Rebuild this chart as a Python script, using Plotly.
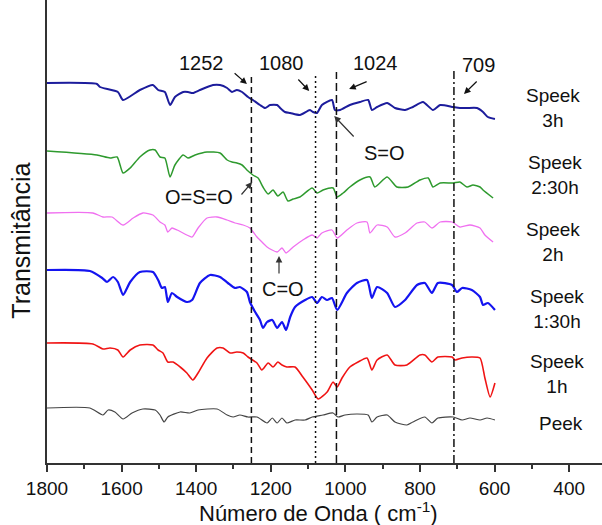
import plotly.graph_objects as go

# FTIR spectra (wavenumber in cm-1, transmittance in arbitrary offset units)
wn_3h = [1800, 1666, 1658, 1610, 1596, 1551, 1516, 1502, 1484, 1470, 1457, 1435, 1422, 1409, 1390,
         1355, 1336, 1317, 1304, 1291, 1277, 1261, 1248, 1229, 1215, 1202, 1183, 1175, 1162, 1148,
         1122, 1095, 1087, 1076, 1063, 1036, 1028, 1014, 988, 961, 939, 929, 915, 888, 867,
         840, 819, 792, 765, 746, 711, 693, 674, 647, 631, 618, 599]
t_3h = [3.87, 3.86, 3.83, 3.78, 3.70, 3.80, 3.85, 3.80, 3.78, 3.65, 3.73, 3.78, 3.78, 3.77, 3.80,
        3.85, 3.85, 3.82, 3.78, 3.80, 3.78, 3.73, 3.70, 3.65, 3.62, 3.65, 3.65, 3.62, 3.58, 3.57,
        3.55, 3.60, 3.58, 3.57, 3.65, 3.70, 3.60, 3.60, 3.65, 3.68, 3.70, 3.60, 3.63, 3.67, 3.62,
        3.60, 3.63, 3.68, 3.60, 3.65, 3.63, 3.62, 3.62, 3.62, 3.58, 3.53, 3.51]

wn_2h30 = [1800, 1666, 1631, 1612, 1596, 1577, 1551, 1524, 1510, 1497, 1484, 1470, 1457, 1435, 1422,
           1403, 1371, 1336, 1317, 1304, 1291, 1277, 1264, 1248, 1234, 1221, 1207, 1194, 1181, 1167,
           1154, 1140, 1122, 1089, 1076, 1060, 1033, 1022, 1006, 988, 961, 934, 921, 888, 862,
           832, 800, 778, 765, 746, 711, 693, 674, 658, 639, 631, 604]
t_2h30 = [3.19, 3.15, 3.12, 3.13, 2.97, 3.02, 3.13, 3.20, 3.20, 3.13, 3.12, 2.93, 3.05, 3.15, 3.12,
          3.15, 3.18, 3.17, 3.10, 3.08, 3.07, 3.05, 3.00, 2.95, 2.92, 2.83, 2.76, 2.80, 2.74, 2.78,
          2.69, 2.71, 2.73, 2.82, 2.77, 2.80, 2.82, 2.73, 2.77, 2.83, 2.90, 2.93, 2.83, 2.93, 2.83,
          2.83, 2.90, 2.92, 2.83, 2.87, 2.87, 2.88, 2.83, 2.85, 2.83, 2.80, 2.72]

wn_2h = [1800, 1677, 1650, 1626, 1596, 1569, 1543, 1516, 1497, 1484, 1476, 1465, 1451, 1425, 1411,
         1395, 1371, 1344, 1317, 1296, 1274, 1256, 1237, 1229, 1210, 1183, 1170, 1159, 1140, 1114,
         1089, 1076, 1063, 1036, 1022, 996, 969, 942, 934, 915, 888, 867, 840, 808, 787,
         768, 746, 714, 693, 666, 639, 626, 604]
t_2h = [2.57, 2.57, 2.53, 2.53, 2.45, 2.52, 2.57, 2.55, 2.48, 2.45, 2.38, 2.42, 2.40, 2.35, 2.33,
        2.42, 2.52, 2.53, 2.50, 2.47, 2.45, 2.42, 2.33, 2.30, 2.23, 2.18, 2.22, 2.17, 2.23, 2.30,
        2.35, 2.32, 2.37, 2.40, 2.32, 2.40, 2.47, 2.48, 2.37, 2.45, 2.43, 2.33, 2.37, 2.47, 2.48,
        2.42, 2.48, 2.48, 2.43, 2.45, 2.42, 2.35, 2.28]

wn_1h30 = [1800, 1685, 1652, 1639, 1623, 1610, 1596, 1577, 1551, 1516, 1502, 1492, 1484, 1476, 1465,
           1451, 1425, 1411, 1390, 1363, 1336, 1315, 1296, 1283, 1264, 1256, 1242, 1229, 1221, 1210,
           1196, 1183, 1170, 1159, 1148, 1135, 1108, 1089, 1076, 1063, 1049, 1036, 1022, 996, 969,
           942, 929, 915, 888, 867, 840, 808, 787, 768, 752, 714, 701, 687, 661, 639,
           631, 618, 599]
t_1h30 = [2.00, 1.99, 1.92, 1.88, 1.93, 1.88, 1.75, 1.88, 1.98, 1.98, 1.90, 1.82, 1.83, 1.68, 1.77,
          1.73, 1.68, 1.70, 1.87, 1.95, 1.93, 1.87, 1.82, 1.83, 1.78, 1.68, 1.58, 1.50, 1.42, 1.48,
          1.50, 1.42, 1.48, 1.40, 1.53, 1.63, 1.70, 1.73, 1.67, 1.73, 1.70, 1.72, 1.60, 1.77, 1.87,
          1.90, 1.72, 1.83, 1.77, 1.63, 1.70, 1.85, 1.87, 1.77, 1.87, 1.85, 1.78, 1.82, 1.80, 1.73,
          1.65, 1.67, 1.60]

wn_1h = [1800, 1677, 1650, 1631, 1610, 1596, 1577, 1551, 1516, 1502, 1489, 1476, 1462, 1443, 1425,
         1409, 1395, 1371, 1344, 1328, 1309, 1291, 1274, 1261, 1237, 1224, 1207, 1194, 1181, 1170,
         1157, 1135, 1114, 1089, 1073, 1049, 1033, 1022, 1009, 988, 966, 942, 929, 915, 888,
         867, 835, 800, 787, 768, 752, 714, 706, 687, 661, 639, 626, 612, 599]
t_1h = [1.27, 1.26, 1.21, 1.22, 1.20, 1.13, 1.20, 1.25, 1.25, 1.20, 1.17, 1.08, 1.08, 1.03, 0.97,
        0.90, 0.97, 1.12, 1.22, 1.22, 1.17, 1.18, 1.17, 1.13, 1.07, 1.00, 1.07, 1.03, 1.08, 1.05,
        1.03, 1.03, 0.93, 0.80, 0.71, 0.78, 0.88, 0.83, 0.92, 1.03, 1.08, 1.12, 1.00, 1.10, 1.15,
        1.05, 1.05, 1.15, 1.15, 1.08, 1.13, 1.13, 1.10, 1.12, 1.13, 1.12, 0.92, 0.73, 0.87]

wn_peek = [1800, 1685, 1650, 1636, 1618, 1596, 1572, 1543, 1510, 1497, 1486, 1476, 1443, 1417, 1395,
           1344, 1317, 1301, 1283, 1261, 1237, 1210, 1196, 1183, 1170, 1157, 1135, 1108, 1089, 1060,
           1033, 1020, 1001, 969, 939, 929, 915, 888, 867, 835, 819, 787, 768, 752, 711,
           687, 666, 639, 620, 599]
t_peek = [0.62, 0.62, 0.55, 0.60, 0.58, 0.51, 0.57, 0.61, 0.60, 0.55, 0.48, 0.53, 0.58, 0.57, 0.60,
          0.61, 0.55, 0.53, 0.55, 0.53, 0.53, 0.47, 0.52, 0.47, 0.52, 0.47, 0.50, 0.50, 0.53, 0.55,
          0.57, 0.53, 0.55, 0.56, 0.55, 0.48, 0.53, 0.55, 0.48, 0.45, 0.48, 0.53, 0.47, 0.52, 0.53,
          0.50, 0.52, 0.50, 0.52, 0.50]

sample_names = ["Speek<br>3h", "Speek<br>2:30h", "Speek<br>2h", "Speek<br>1:30h", "Speek<br>1h", "Peek"]

# marked bands (cm-1)
band_positions = [1252, 1080, 1024, 709]
band_labels = ["1252", "1080", "1024", "709"]

x_ticks = [1800, 1600, 1400, 1200, 1000, 800, 600, 400]

FONT = "Arial, 'Liberation Sans', sans-serif"

series = [
    (wn_3h, t_3h, "#1c1c9c", 2.0),
    (wn_2h30, t_2h30, "#2e9a2e", 1.5),
    (wn_2h, t_2h, "#f070f0", 1.3),
    (wn_1h30, t_1h30, "#1414f0", 2.2),
    (wn_1h, t_1h, "#f01414", 1.6),
    (wn_peek, t_peek, "#444444", 1.2),
]

fig = go.Figure()
for wn, t, color, width in series:
    fig.add_trace(go.Scatter(
        x=wn, y=t, mode="lines",
        line=dict(color=color, width=width, shape="spline", smoothing=0.6),
        showlegend=False, hoverinfo="skip",
    ))

# vertical band markers
band_dash = ["6px,4px", "2px,3px", "8px,4px", "8px,3px,2px,3px"]
band_top = [3.97, 3.97, 3.98, 4.00]
for pos, dash, top in zip(band_positions, band_dash, band_top):
    fig.add_shape(type="line", xref="x", yref="y", x0=pos, x1=pos, y0=0.07, y1=top,
                  line=dict(color="#111111", width=1.5, dash=dash))

annotations = []

# band numbers with their arrows
label_xy = [(1387, 4.07), (1170, 4.07), (920, 4.07), (642, 4.05)]
arrow_tail = [(1301, 3.98), (1130, 3.92), (939, 3.89), (644, 3.90)]
arrow_head = [(1264, 3.86), (1097, 3.79), (990, 3.81), (682, 3.76)]
for txt, (lx, ly), (tx, ty), (hx, hy) in zip(band_labels, label_xy, arrow_tail, arrow_head):
    annotations.append(dict(x=lx, y=ly, xref="x", yref="y", text=txt, showarrow=False,
                            font=dict(size=20, color="#111111", family=FONT)))
    annotations.append(dict(x=hx, y=hy, ax=tx, ay=ty, xref="x", yref="y", axref="x", ayref="y",
                            text="", showarrow=True, arrowhead=2, arrowsize=1.1, arrowwidth=1.2,
                            arrowcolor="#111111", standoff=0, startstandoff=0))

# functional group labels
group_labels = ["S=O", "O=S=O", "C=O"]
group_xy = [(894, 3.17), (1392, 2.73), (1167, 1.81)]
group_tail = [(974, 3.32), (1282, 2.74), (1178, 1.95)]
group_head = [(1030, 3.54), (1250, 2.88), (1178, 2.14)]
for txt, (lx, ly), (tx, ty), (hx, hy) in zip(group_labels, group_xy, group_tail, group_head):
    annotations.append(dict(x=lx, y=ly, xref="x", yref="y", text=txt, showarrow=False,
                            font=dict(size=20, color="#111111", family=FONT)))
    annotations.append(dict(x=hx, y=hy, ax=tx, ay=ty, xref="x", yref="y", axref="x", ayref="y",
                            text="", showarrow=True, arrowhead=2, arrowsize=1.1, arrowwidth=1.2,
                            arrowcolor="#333333", standoff=0, startstandoff=0))

# sample names on the right
name_xy = [(443, 3.62), (438, 2.95), (443, 2.28), (432, 1.61), (432, 0.96), (422, 0.47)]
for txt, (nx, ny) in zip(sample_names, name_xy):
    annotations.append(dict(x=nx, y=ny, xref="x", yref="y", text=txt, showarrow=False,
                            align="center", font=dict(size=19, color="#111111", family=FONT)))

# axis titles
annotations.append(dict(x=-0.047, y=0.48, xref="paper", yref="paper", text="Transmitância",
                        textangle=-90, showarrow=False, xanchor="center", yanchor="middle",
                        font=dict(size=25, color="#111111", family=FONT)))
annotations.append(dict(x=0.49, y=-0.072, xref="paper", yref="paper",
                        text="Número de Onda ( cm<sup>-1</sup>)",
                        showarrow=False, xanchor="center", yanchor="top",
                        font=dict(size=22, color="#111111", family=FONT)))

fig.update_layout(
    width=602, height=525,
    margin=dict(l=47, r=0, t=0, b=62),
    paper_bgcolor="white", plot_bgcolor="white",
    font=dict(family=FONT, color="#111111"),
    annotations=annotations,
    xaxis=dict(
        range=[1800, 312], tickmode="array", tickvals=x_ticks,
        ticks="outside", ticklen=7, tickwidth=1.5, tickcolor="#333333",
        minor=dict(tickmode="linear", tick0=300, dtick=100, ticks="outside",
                   ticklen=4, tickwidth=1.5, tickcolor="#333333"),
        showline=True, linecolor="#333333", linewidth=2,
        showgrid=False, zeroline=False,
        tickfont=dict(size=19, color="#111111", family=FONT),
    ),
    yaxis=dict(
        range=[0.07, 4.70], showticklabels=False, ticks="",
        showline=True, linecolor="#333333", linewidth=2,
        showgrid=False, zeroline=False,
    ),
)

fig.write_html("out.html")
